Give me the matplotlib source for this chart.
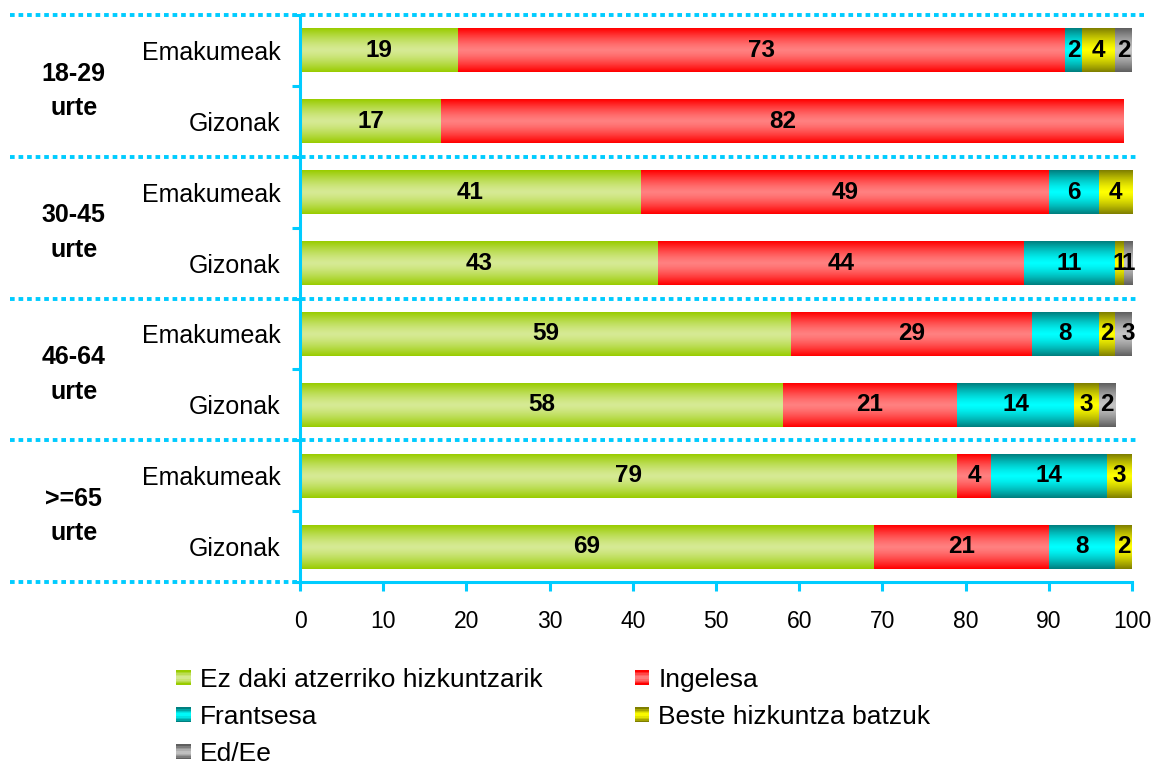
import numpy as np
import matplotlib.pyplot as plt
from matplotlib.patches import Rectangle
from matplotlib.legend_handler import HandlerBase
from matplotlib.transforms import blended_transform_factory
from matplotlib.colors import to_rgb

plt.rcParams['font.family'] = ['Liberation Sans', 'DejaVu Sans']

# Datuak
groups = ['18-29\nurte', '30-45\nurte', '46-64\nurte', '>=65\nurte']
sexes = ['Emakumeak', 'Gizonak'] * 4
series = ['Ez daki atzerriko hizkuntzarik', 'Ingelesa', 'Frantsesa',
          'Beste hizkuntza batzuk', 'Ed/Ee']

ez_daki = [19, 17, 41, 43, 59, 58, 79, 69]
ingelesa = [73, 82, 49, 44, 29, 21, 4, 21]
frantsesa = [2, 0, 6, 11, 8, 14, 14, 8]
beste = [4, 0, 4, 1, 2, 3, 3, 2]
ed_ee = [2, 0, 0, 1, 3, 2, 0, 0]

xticks = [0, 10, 20, 30, 40, 50, 60, 70, 80, 90, 100]

# koloreak: (ertza, erdia)
grads = [('#99CC00', '#D6EA94'), ('#FF0000', '#FF8080'), ('#007F7F', '#00FFFF'),
         ('#7F7F00', '#FFFF00'), ('#5F5F5F', '#C4C4C4')]
cyan = '#00CCFF'


def gradient(edge, mid, n=64):
    s = np.linspace(-1, 1, n)
    t = 1 - np.abs(s) ** 1.4
    e = np.array(to_rgb(edge))
    m = np.array(to_rgb(mid))
    return (e + (m - e) * t[:, None])[:, None, :]


class GradHandler(HandlerBase):
    def __init__(self, edge, mid):
        super().__init__()
        self.edge, self.mid = edge, mid

    def create_artists(self, legend, orig_handle, xdescent, ydescent,
                       width, height, fontsize, trans):
        side = min(width, height)
        x0 = -xdescent + (width - side) / 2
        y0 = -ydescent + (height - side) / 2
        n = 10
        cols = gradient(self.edge, self.mid, n)[:, 0, :]
        arts = []
        for k in range(n):
            r = Rectangle((x0, y0 + side * k / n), side, side / n + 0.3,
                          facecolor=cols[k], edgecolor='none', transform=trans)
            arts.append(r)
        return arts


fig = plt.figure(figsize=(11.54, 7.66), dpi=100)
ax = fig.add_axes([300 / 1154, 1 - 582 / 766, 832 / 1154, 567 / 766])

y = np.arange(len(sexes))
data = [ez_daki, ingelesa, frantsesa, beste, ed_ee]
left = np.zeros(len(sexes))
containers = []
for vals, (edge, mid), name in zip(data, grads, series):
    vals = np.array(vals, dtype=float)
    bars = ax.barh(y, vals, left=left, height=0.62, color='none', label=name)
    containers.append(bars)
    img = gradient(edge, mid)
    for p, v in zip(bars.patches, vals):
        if v <= 0:
            continue
        x0, y0 = p.get_x(), p.get_y()
        ax.imshow(img, extent=[x0, x0 + p.get_width(), y0, y0 + p.get_height()],
                  aspect='auto', interpolation='bilinear', zorder=2)
        ax.text(x0 + p.get_width() / 2, y0 + p.get_height() / 2, f'{v:.0f}',
                ha='center', va='center', fontsize=17.5, fontweight='bold',
                color='black', zorder=3)
    left += vals

ax.set_xlim(0, 100)
ax.set_ylim(7.5, -0.5)

for s in ['top', 'right']:
    ax.spines[s].set_visible(False)
for s in ['left', 'bottom']:
    ax.spines[s].set_color(cyan)
    ax.spines[s].set_linewidth(2.2)

ax.set_xticks(xticks)
ax.tick_params(axis='x', direction='out', length=6.5, width=2.2, color=cyan,
               labelsize=16.5, pad=13.5)
ax.set_yticks(y)
ax.set_yticklabels(sexes)
ax.set_yticks(np.arange(-0.5, 8, 1), minor=True)
ax.tick_params(axis='y', which='major', length=0, labelsize=18, pad=14)
ax.tick_params(axis='y', which='minor', direction='out', length=6, width=2.2,
               color=cyan)

# talde-lerroak
tr = blended_transform_factory(ax.transAxes, ax.transData)
for yb, x1 in zip([-0.5, 1.5, 3.5, 5.5, 7.5], [1.018, 1.007, 1.007, 1.007, 0.0]):
    ax.plot([-0.349, x1], [yb, yb], transform=tr, color=cyan, lw=2.8,
            linestyle=(0, (1.2, 1.0)), dash_capstyle='butt', clip_on=False,
            zorder=1)

for i, g in enumerate(groups):
    ax.text(-0.272, 2 * i + 0.57, g, transform=tr, ha='center', va='center',
            fontsize=18, fontweight='bold', linespacing=1.55)

order = [0, 2, 4, 1, 3]
handles = [containers[i] for i in order]
labels = [series[i] for i in order]
hmap = {containers[i]: GradHandler(*grads[i]) for i in range(5)}
fig.legend(handles, labels, handler_map=hmap, loc='upper left',
           bbox_to_anchor=(176 / 1154, 1 - 668 / 766), ncol=2, frameon=False,
           fontsize=19, borderpad=0, borderaxespad=0, handlelength=0.55,
           handleheight=0.55, handletextpad=0.35, labelspacing=0.5,
           columnspacing=3.5)

fig.savefig('out.png', dpi=100)
